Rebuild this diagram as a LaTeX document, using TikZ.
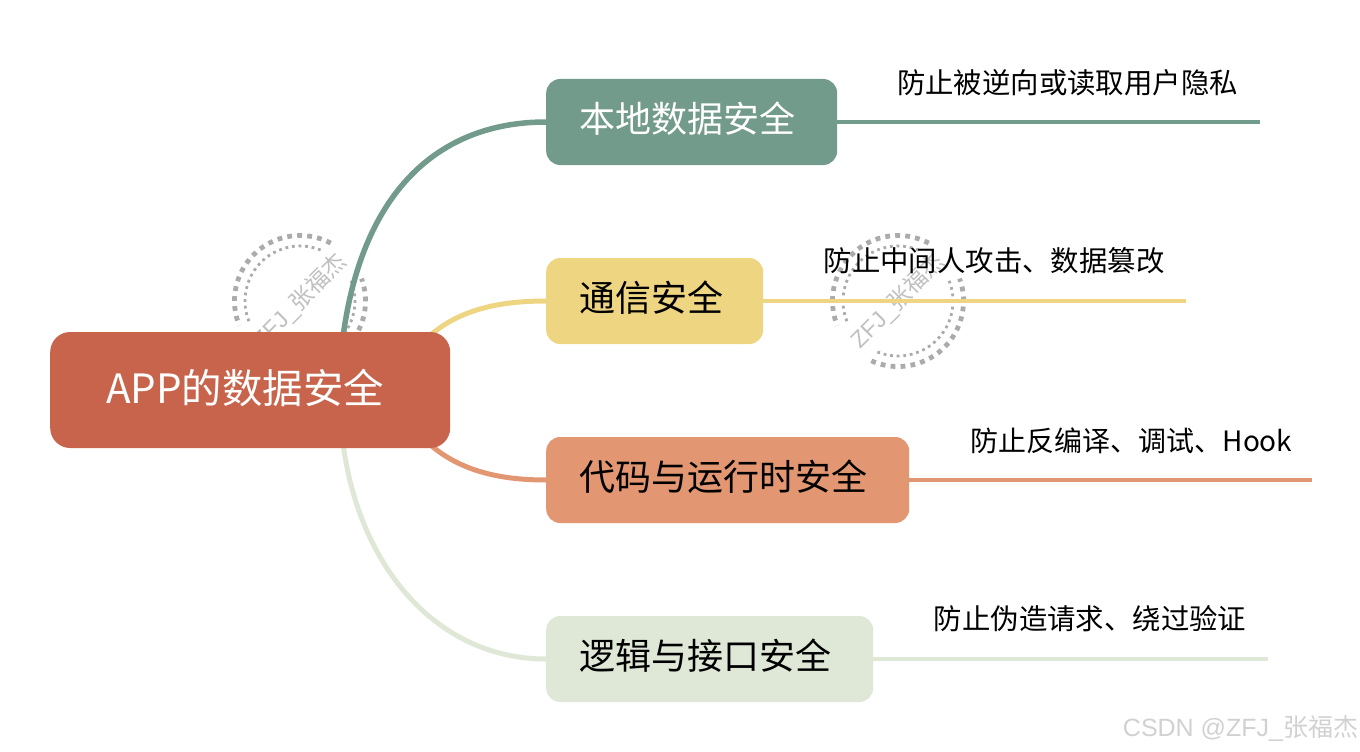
\documentclass[tikz,border=0pt]{standalone}
\usepackage{fontspec}
\setmainfont{Noto Sans CJK SC}
\newfontfamily\marksans{Liberation Sans}
\newfontfamily\markcjk{Noto Sans CJK SC}[Scale=1]
\usetikzlibrary{backgrounds}
\definecolor{rootred}{HTML}{C8644C}
\definecolor{localgreen}{HTML}{739B8B}
\definecolor{netyellow}{HTML}{EED582}
\definecolor{codeorange}{HTML}{E29671}
\definecolor{logicgreen}{HTML}{DFE8D7}
\definecolor{markgray}{HTML}{ABABAB}
\tikzset{
  topicbox/.style={anchor=west,rounded corners=14pt,inner xsep=33pt,inner ysep=0pt,minimum height=86pt,text height=26pt,text depth=6pt,align=left,font=\fontsize{36}{40}\selectfont},
  leaftext/.style={inner sep=0pt,font=\fontsize{28.4}{32}\selectfont},
  branch/.style={line width=5pt},
  twig/.style={line width=4pt},
  stampouter/.style={markgray,line width=4.8pt,dash pattern=on 4.8pt off 5.2pt},
  stampinner/.style={markgray,line width=2.8pt,dash pattern=on 2.8pt off 3.8pt}
}
\begin{document}
\begin{tikzpicture}[x=1pt,y=-1pt]
\useasboundingbox (0,0) rectangle (1360,752);
\node[topicbox,fill=rootred,text=white,text width=334pt,minimum height=116pt,rounded corners=20pt,text height=32pt,font=\fontsize{40.4}{44}\selectfont] (root) at (50,390) {\hspace{23pt}APP的数据安全};
\node[topicbox,fill=localgreen,text=white,text width=225pt] (local) at (546,122) {本地数据安全};
\node[topicbox,fill=netyellow,text width=151pt] (net) at (546,301) {通信安全};
\node[topicbox,fill=codeorange,text width=297pt] (code) at (546,480) {代码与运行时安全};
\node[topicbox,fill=logicgreen,text width=261pt] (logic) at (546,659) {逻辑与接口安全};
\node[leaftext] (localtext) at (1067.5,83) {防止被逆向或读取用户隐私};
\node[leaftext] (nettext) at (994,261) {防止中间人攻击、数据篡改};
\node[leaftext,font=\fontsize{28}{32}\selectfont] (codetext) at (1131.5,441) {防止反编译、调试、Hook};
\node[leaftext] (logictext) at (1090,619) {防止伪造请求、绕过验证};
\coordinate (localstart) at (342,345);
\coordinate (netstart) at (420,345);
\coordinate (codestart) at (420,435);
\coordinate (logicstart) at (342,435);
\coordinate (localend) at (1260,122);
\coordinate (netend) at (1186,301);
\coordinate (codeend) at (1312,480);
\coordinate (logicend) at (1268,659);
\node[text=markgray!55!white,inner sep=0pt,font=\fontsize{25}{28}\selectfont\marksans] (csdn) at (1240.5,728) {CSDN @ZFJ\_{\markcjk 张福杰}};
\begin{scope}[on background layer]
\foreach \x/\y/\n in {300/301/a,898/301/b} {
  \begin{scope}[shift={(\x,\y)}]
  \draw[stampouter] (62:65.5pt) arc[start angle=62,end angle=202,radius=65.5pt];
  \draw[stampouter] (246:65.5pt) arc[start angle=246,end angle=380,radius=65.5pt];
  \draw[stampinner] (68:55pt) arc[start angle=68,end angle=202,radius=55pt];
  \draw[stampinner] (248:55pt) arc[start angle=248,end angle=385,radius=55pt];
  \node[text=markgray!75!white,rotate=45,inner sep=0pt,font=\fontsize{23}{26}\selectfont\marksans] (stamp\n) at (0,0) {ZFJ\_{\markcjk 张福杰}};
  \end{scope}
}
\draw[branch,localgreen,line width=5.5pt] (localstart) .. controls (360,190) and (440,122) .. (local.west);
\draw[branch,netyellow] (netstart) .. controls (452,311) and (495,301) .. (net.west);
\draw[branch,codeorange] (codestart) .. controls (452,469) and (495,480) .. (code.west);
\draw[branch,logicgreen] (logicstart) .. controls (356,565) and (436,659) .. (logic.west);
\draw[twig,localgreen] (local.east) -- (localend);
\draw[twig,netyellow] (net.east) -- (netend);
\draw[twig,codeorange] (code.east) -- (codeend);
\draw[twig,logicgreen] (logic.east) -- (logicend);
\end{scope}
\end{tikzpicture}
\end{document}
